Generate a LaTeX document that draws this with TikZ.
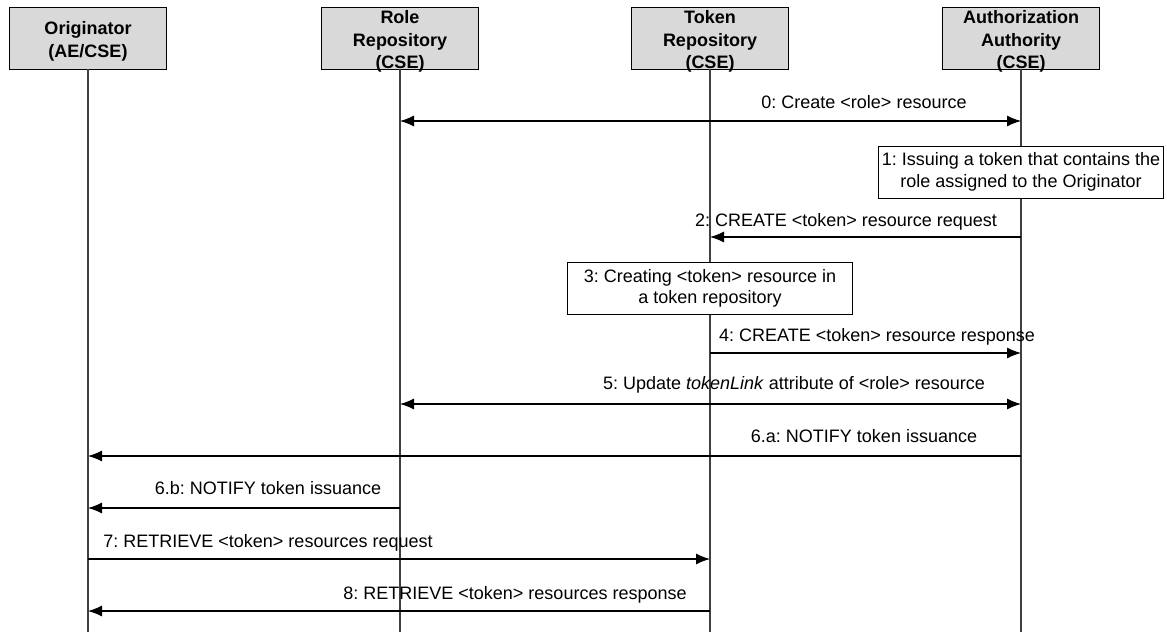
\documentclass[tikz,border=0pt]{standalone}
\usepackage{fontspec}
\setmainfont{Liberation Sans}
\frenchspacing
\usetikzlibrary{arrows.meta}
\begin{document}
\begin{tikzpicture}[x=0.5pt,y=-0.5pt,
	hdr/.style={inner sep=0pt,yshift=-1.75pt,align=center,font=\bfseries\fontsize{9}{11.2}\selectfont},
	actor/.style={draw,fill=black!15,minimum width=78.5pt,minimum height=31pt,inner sep=0pt,label={[hdr]center:#1}},
	life/.style={draw=black!75,line width=0.7pt},
	msg/.style={-{Latex[length=7pt,width=5.5pt]},line width=0.55pt},
	both/.style={{Latex[length=7pt,width=5.5pt]}-{Latex[length=7pt,width=5.5pt]},line width=0.55pt},
	lbl/.style={inner sep=0pt,font=\fontsize{9}{11}\selectfont},
	act/.style={draw,fill=white,minimum width=142.5pt,minimum height=26pt,inner sep=1pt,align=center,font=\fontsize{9}{10.75}\selectfont}]
		\useasboundingbox (0,0) rectangle (1167,632);
		% participants
		\node[actor={Originator\\(AE/CSE)}] (orig) at (88,38) {};
		\node[actor={Role\\Repository\\(CSE)}] (role) at (400,38) {};
		\node[actor={Token\\Repository\\(CSE)}] (tok) at (710,38) {};
		\node[actor={Authorization\\Authority\\(CSE)}] (auth) at (1021,38) {};
		\draw[life] (orig) -- (orig |- 0,632);
		\draw[life] (role) -- (role |- 0,632);
		\draw[life] (tok) -- (tok |- 0,632);
		\draw[life] (auth) -- (auth |- 0,632);
		% message ends on the lifelines
		\coordinate (r0) at (role |- 0,121);
		\coordinate (a0) at (auth |- 0,121);
		\coordinate (a2) at (auth |- 0,237);
		\coordinate (t2) at (tok |- 0,237);
		\coordinate (t4) at (tok |- 0,353);
		\coordinate (a4) at (auth |- 0,353);
		\coordinate (r5) at (role |- 0,404);
		\coordinate (a5) at (auth |- 0,404);
		\coordinate (a6) at (auth |- 0,456);
		\coordinate (o6) at (orig |- 0,456);
		\coordinate (r6) at (role |- 0,508);
		\coordinate (o6b) at (orig |- 0,508);
		\coordinate (o7) at (orig |- 0,559);
		\coordinate (t7) at (tok |- 0,559);
		\coordinate (t8) at (tok |- 0,611);
		\coordinate (o8) at (orig |- 0,611);
		% steps
		\draw[both] (r0) -- (a0);
		\node[lbl] (l0) at (864,102) {0: Create <role> resource};
		\node[act] (issue) at (auth |- 0,172) {1: Issuing a token that contains the\\role assigned to the Originator};
		\draw[msg] (a2) -- (t2);
		\node[lbl] (l2) at (846,222) {2: CREATE <token> resource request};
		\node[act] (create) at (tok |- 0,288.5) {3: Creating <token> resource in\\a token repository};
		\draw[msg] (t4) -- (a4);
		\node[lbl] (l4) at (877,337) {4: CREATE <token> resource response};
		\draw[both] (r5) -- (a5);
		\node[lbl] (l5) at (794,385) {5: Update \textit{tokenLink} attribute of <role> resource};
		\draw[msg] (a6) -- (o6);
		\node[lbl] (l6a) at (864,436) {6.a: NOTIFY token issuance};
		\draw[msg] (r6) -- (o6b);
		\node[lbl] (l6b) at (268,488) {6.b: NOTIFY token issuance};
		\draw[msg] (o7) -- (t7);
		\node[lbl] (l7) at (268,543) {7: RETRIEVE <token> resources request};
		\draw[msg] (t8) -- (o8);
		\node[lbl] (l8) at (515,595) {8: RETRIEVE <token> resources response};
	\end{tikzpicture}
\end{document}
